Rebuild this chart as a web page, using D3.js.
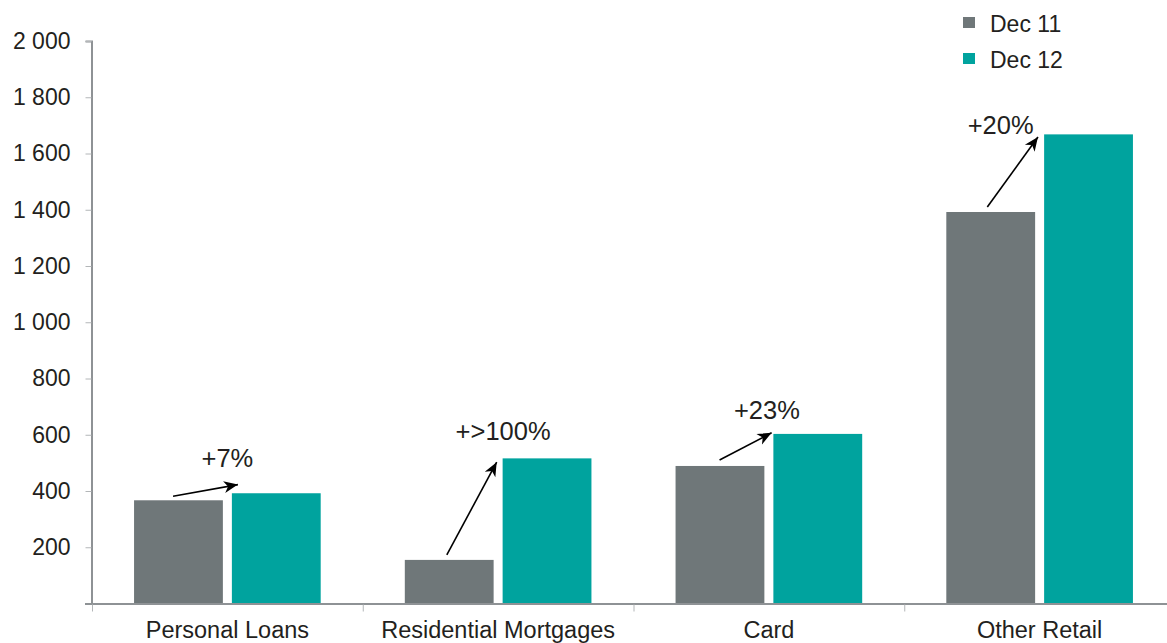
<!DOCTYPE html>
<html>
<head>
<meta charset="utf-8">
<script src="https://cdnjs.cloudflare.com/ajax/libs/d3/7.8.5/d3.min.js"></script>
<style>
  html, body { margin: 0; padding: 0; background: #ffffff; }
  svg { display: block; font-family: "Liberation Sans", Arial, sans-serif; }
</style>
</head>
<body>
<svg id="chart" width="1167" height="643"></svg>
<script>
// Retail loan book by product, Dec 11 vs Dec 12
const categories = ["Personal Loans", "Residential Mortgages", "Card", "Other Retail"];
const seriesNames = ["Dec 11", "Dec 12"];
const dec11 = [367, 155, 489, 1392];
const dec12 = [392, 516, 603, 1668];
const growthLabels = ["+7%", "+>100%", "+23%", "+20%"];
const yTickValues = [0, 200, 400, 600, 800, 1000, 1200, 1400, 1600, 1800, 2000];

// Per-category placement of the growth arrows and their captions
const arrowLayout = [
  { sx: 39, sy: -4, ex: 8,  ey: -9, lx: 0,   ly: -26 },
  { sx: 42, sy: -5, ex: -5, ey: 2,  lx: 5,   ly: -18 },
  { sx: 44, sy: -6, ex: 0,  ey: -2, lx: -2,  ly: -15 },
  { sx: 41, sy: -5, ex: -5, ey: 1,  lx: -39, ly: 0 }
];

const colors = { "Dec 11": "#6f7779", "Dec 12": "#00a39e" };
const textColor = "#231f20";
const axisColor = "#8e9295";

const svg = d3.select("#chart");

const x0 = d3.scaleBand().domain(categories).range([92, 1175]).padding(0);
const x1 = d3.scaleBand().domain(seriesNames)
  .range([0, x0.bandwidth()])
  .paddingInner(0.092).paddingOuter(0.43);
const y = d3.scaleLinear().domain([0, 2000]).range([603.5, 41]);

const rows = categories.map((c, i) => ({
  category: c,
  values: [
    { series: "Dec 11", value: dec11[i] },
    { series: "Dec 12", value: dec12[i] }
  ]
}));

// Bars
const groups = svg.append("g").selectAll("g")
  .data(rows).join("g")
  .attr("transform", d => `translate(${x0(d.category)},0)`);

groups.selectAll("rect")
  .data(d => d.values).join("rect")
  .attr("x", d => x1(d.series))
  .attr("width", x1.bandwidth())
  .attr("y", d => y(d.value))
  .attr("height", d => y(0) - y(d.value))
  .attr("fill", d => colors[d.series]);

// Y axis
const yAxis = svg.append("g")
  .attr("transform", "translate(91.5,0)")
  .call(d3.axisLeft(y)
    .tickValues(yTickValues)
    .tickSize(6)
    .tickPadding(15)
    .tickFormat(v => v === 0 ? "" : d3.format(",")(v).replace(/,/g, " ")));
yAxis.select(".domain").attr("stroke", axisColor).attr("stroke-width", 2);
yAxis.selectAll(".tick line").attr("stroke", "#b3b6b8").attr("stroke-width", 1);
yAxis.selectAll(".tick text")
  .attr("fill", textColor)
  .style("font-size", "23px");

// X axis: boundary ticks between categories, labels centered in bands
const xAxisG = svg.append("g");
xAxisG.append("line")
  .attr("x1", 85).attr("x2", 1167)
  .attr("y1", y(0) + 0.5).attr("y2", y(0) + 0.5)
  .attr("stroke", axisColor).attr("stroke-width", 2);

xAxisG.selectAll("line.bound")
  .data(categories).join("line")
  .attr("class", "bound")
  .attr("x1", d => x0(d) + 0.5).attr("x2", d => x0(d) + 0.5)
  .attr("y1", y(0) + 1).attr("y2", y(0) + 8)
  .attr("stroke", "#b3b6b8").attr("stroke-width", 1);

xAxisG.selectAll("text")
  .data(categories).join("text")
  .attr("x", d => x0(d) + x0.bandwidth() / 2)
  .attr("y", 638)
  .attr("text-anchor", "middle")
  .attr("fill", textColor)
  .style("font-size", "23.5px")
  .text(d => d);

// Growth arrows
svg.append("defs").append("marker")
  .attr("id", "arrowhead")
  .attr("markerUnits", "userSpaceOnUse")
  .attr("markerWidth", 16).attr("markerHeight", 14)
  .attr("viewBox", "-15 -7 16 14")
  .attr("refX", 0).attr("refY", 0)
  .attr("orient", "auto")
  .append("path")
  .attr("d", "M0,0 L-14,-6 L-10,0 L-14,6 Z")
  .attr("fill", "#000");

const ann = svg.append("g");
categories.forEach((c, i) => {
  const L = arrowLayout[i];
  const bx = x0(c);
  const sx = bx + x1("Dec 11") + L.sx;
  const sy = y(dec11[i]) + L.sy;
  const ex = bx + x1("Dec 12") + L.ex;
  const ey = y(dec12[i]) + L.ey;
  // shorten line so the marker tip lands on the end point
  const len = Math.hypot(ex - sx, ey - sy);
  const k = (len - 2) / len;
  ann.append("line")
    .attr("x1", sx).attr("y1", sy)
    .attr("x2", sx + (ex - sx) * k).attr("y2", sy + (ey - sy) * k)
    .attr("stroke", "#000").attr("stroke-width", 1.6)
    .attr("marker-end", "url(#arrowhead)");
  ann.append("text")
    .attr("x", bx + x0.bandwidth() / 2 + L.lx)
    .attr("y", y(dec12[i]) + L.ly)
    .attr("text-anchor", "middle")
    .attr("fill", textColor)
    .style("font-size", "25.5px")
    .text(growthLabels[i]);
});

// Legend
const legend = svg.append("g");
seriesNames.forEach((s, i) => {
  const g = legend.append("g").attr("transform", `translate(963,${17 + i * 36})`);
  g.append("rect").attr("width", 12).attr("height", 11).attr("fill", colors[s]);
  g.append("text")
    .attr("x", 27).attr("y", 15)
    .attr("fill", textColor)
    .style("font-size", "23px")
    .text(s);
});
</script>
</body>
</html>
